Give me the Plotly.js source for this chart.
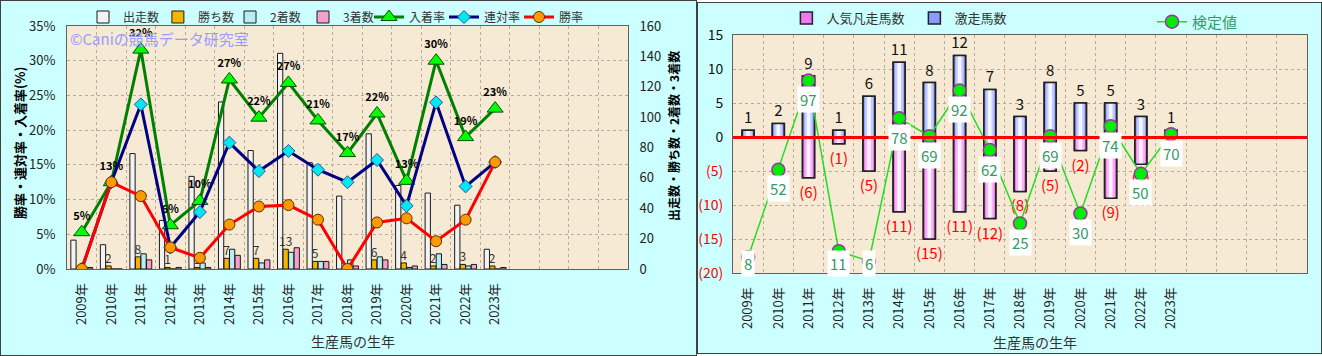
<!DOCTYPE html>
<html><head><meta charset="utf-8">
<script src="https://cdn.plot.ly/plotly-3.0.1.min.js"></script>
<style>
body{margin:0;background:#ffffff;}
#c1{position:absolute;left:0;top:0;width:695px;height:354px;border:1px solid #404040;}
#c2{position:absolute;left:697px;top:2px;width:623px;height:350px;border:1px solid #404040;}
</style></head><body>
<div id="c1"></div><div id="c2"></div>
<script>
// ---------- shared categories ----------
const years = ['2009年','2010年','2011年','2012年','2013年','2014年','2015年','2016年','2017年','2018年','2019年','2020年','2021年','2022年','2023年'];
const slotCount = 19; // 15 years + 4 empty slots on the axis

// ---------- left chart data ----------
const runs    = [19,16,76,32,61,110,78,142,70,48,89,55,50,42,13];   // 出走数
const wins    = [0,2,8,1,1,7,7,13,5,0,6,4,2,3,2];                   // 勝ち数
const seconds = [0,0,10,0,4,13,4,11,5,6,8,1,10,2,0];                // 2着数
const thirds  = [1,0,6,1,1,9,6,14,5,2,6,2,3,3,1];                   // 3着数
const placeRate    = [5.3,12.5,31.6,6.3,9.8,27.3,21.8,26.8,21.4,16.7,22.4,12.7,30.0,19.0,23.1]; // 入着率
const quinellaRate = [0,12.5,23.7,3.1,8.2,18.2,14.1,17.0,14.3,12.5,15.7,9.1,24.0,11.9,15.4];    // 連対率
const winRate      = [0,12.5,10.5,3.1,1.6,6.4,9.0,9.2,7.1,0,6.7,7.3,4.0,7.1,15.4];             // 勝率

// ---------- right chart data ----------
const hits     = [1,2,9,1,6,11,8,12,7,3,8,5,5,3,1];          // 激走馬数
const flops    = [0,0,6,1,5,11,15,11,12,8,5,2,9,4,0];        // 人気凡走馬数
const testVals = [8,52,97,11,6,78,69,92,62,25,69,30,74,50,70]; // 検定値
const rightTicks = [-20,-15,-10,-5,0,5,10,15];

// ---------- layout helpers (positions only) ----------
const leftLegendX  = [0.0285, 0.162, 0.2906, 0.4207, 0.5383, 0.672, 0.8057];
const rightLegendX = [0.093, 0.316, 0.73];

const idx = years.map((_, i) => i);
const FONT = '"Noto Sans CJK JP", "Noto Sans", sans-serif';
const PAPER = '#ccffff';
const PLOTBG = '#f6ead4';
const GRID = '#b4ab9b';

const xCommon = {
  type:'linear', range:[-0.5, slotCount - 0.5], tickmode:'array', tickvals: idx, ticktext: years,
  showgrid:false, zeroline:false,
  minor:{tickmode:'linear', tick0:-0.5, dtick:1, showgrid:true, gridcolor:GRID, griddash:'dot', gridwidth:1, ticks:''},
  tickangle:-90, ticks:'', showline:true, linecolor:'#606060', linewidth:1, mirror:true,
  tickfont:{size:13, color:'#222'}, ticklabelstandoff:8, fixedrange:true
};
function legendAt(x, y, font){
  return {orientation:'h', x:x, xanchor:'left', y:y, yanchor:'middle', bgcolor:'rgba(0,0,0,0)', itemwidth:30, font:font};
}

// ---------- left chart ----------
function bar(name, y, color, legend, extra){
  return Object.assign({type:'bar', name:name, x:idx, y:y, yaxis:'y', legend:legend,
    constraintext:'none', marker:{color:color, line:{color:'#1a1a1a', width:1}}, hoverinfo:'skip'}, extra||{});
}
const t1 = [
  bar('出走数', runs, '#f3f3f3', 'legend'),
  bar('勝ち数', wins, '#f2b600', 'legend2', {text: wins.map(v => v ? String(v) : ''), textposition:'outside', cliponaxis:false,
      textfont:{size:12, color:'#333', family:FONT}}),
  bar('2着数', seconds, '#b6eef2', 'legend3'),
  bar('3着数', thirds, '#f4a2cc', 'legend4'),
  {type:'scatter', name:'入着率', x:idx, y:placeRate, yaxis:'y2', mode:'lines+markers+text', legend:'legend5',
   line:{color:'#008000', width:3}, marker:{symbol:'triangle-up', size:14, color:'#00ff00', line:{color:'#005000', width:1}},
   text: placeRate.map(v => Math.round(v) + '%'), textposition:'top center', cliponaxis:false,
   textfont:{size:11, color:'#000', family:FONT, weight:'bold'}, hoverinfo:'skip'},
  {type:'scatter', name:'連対率', x:idx, y:quinellaRate, yaxis:'y2', mode:'lines+markers', legend:'legend6',
   line:{color:'#000080', width:3}, marker:{symbol:'diamond', size:10, color:'#00e8f0', line:{color:'#3050a0', width:1}}, hoverinfo:'skip'},
  {type:'scatter', name:'勝率', x:idx, y:winRate, yaxis:'y2', mode:'lines+markers', legend:'legend7',
   line:{color:'#ff0000', width:3}, marker:{symbol:'circle', size:11, color:'#ff9900', line:{color:'#5a3000', width:1}}, hoverinfo:'skip'}
];
const leftLegFont = {size:12, color:'#333'};
const l1 = {
  width:695, height:354, margin:{l:66, r:68, t:25, b:86, autoexpand:false},
  paper_bgcolor:PAPER, plot_bgcolor:PLOTBG,
  font:{family:FONT, size:13, color:'#333'},
  barmode:'group', bargap:0.25, bargroupgap:0.05,
  showlegend:true,
  xaxis: Object.assign({}, xCommon),
  yaxis:{side:'right', range:[0,160], dtick:20, showgrid:false, zeroline:false, showline:true, linecolor:'#606060',
         tickfont:{size:13, color:'#222'}, ticklabelstandoff:8, fixedrange:true},
  yaxis2:{overlaying:'y', side:'left', range:[0,35], dtick:5, ticksuffix:'%', showgrid:true, gridcolor:GRID, griddash:'dot',
          zeroline:false, showline:true, linecolor:'#606060', tickfont:{size:13, color:'#222'}, ticklabelstandoff:8, fixedrange:true},
  annotations:[
    {xref:'paper', yref:'paper', x:0.002, y:0.95, xanchor:'left', yanchor:'middle', showarrow:false,
     text:'©Caniの競馬データ研究室', font:{size:15, color:'#9a9aff'}},
    {xref:'paper', yref:'paper', x:0.51, y:-0.296, xanchor:'center', yanchor:'middle', showarrow:false,
     text:'生産馬の生年', font:{size:14, color:'#333'}},
    {xref:'paper', yref:'paper', x:-0.0856, y:0.5185, xanchor:'center', yanchor:'middle', showarrow:false, textangle:-90,
     text:'勝率・連対率・入着率(%)', font:{size:13, color:'#000', weight:'bold'}},
    {xref:'paper', yref:'paper', x:1.080, y:0.547, xanchor:'center', yanchor:'middle', showarrow:false, textangle:-90,
     text:'出走数・勝ち数・2着数・3着数', font:{size:12, color:'#000', weight:'bold'}}
  ]
};
['legend','legend2','legend3','legend4','legend5','legend6','legend7'].forEach((k, i) => {
  l1[k] = legendAt(leftLegendX[i], 1.037, leftLegFont);
});
Plotly.newPlot('c1', t1, l1, {staticPlot:true});

// ---------- right chart ----------
const flopsNeg = flops.map(v => -v);
function rbar(name, y, color, width, extra){
  return Object.assign({type:'bar', name:name, x:idx, y:y, width:width, constraintext:'none', hoverinfo:'skip',
    marker:{color:color, line:{width:0}}, showlegend:false}, extra||{});
}
const t2 = [
  rbar('人気凡走馬数', flopsNeg, '#ee78ee', 0.4, {showlegend:true, legend:'legend', marker:{color:'#ee78ee', line:{color:'#222', width:1.5}}}),
  rbar('激走馬数', hits, '#8a9aff', 0.4, {showlegend:true, legend:'legend2', marker:{color:'#8a9aff', line:{color:'#222', width:1.5}}}),
  rbar('p2', flopsNeg, '#f6b2f6', 0.27),
  rbar('b2', hits, '#c2caff', 0.27),
  rbar('p3', flopsNeg, '#fff0ff', 0.12),
  rbar('b3', hits, '#f4f6ff', 0.12),
  rbar('p4', flopsNeg, 'rgba(0,0,0,0)', 0.4, {marker:{color:'rgba(0,0,0,0)', line:{color:'#222', width:1.5}},
       text: flops.map(v => v ? '(' + v + ')' : ''), textposition:'outside', cliponaxis:false,
       textfont:{size:15, color:'#ff0000', family:FONT}}),
  rbar('b4', hits, 'rgba(0,0,0,0)', 0.4, {marker:{color:'rgba(0,0,0,0)', line:{color:'#222', width:1.5}},
       text: hits.map(v => String(v)), textposition:'outside', cliponaxis:false,
       textfont:{size:15, color:'#111', family:FONT}}),
  {type:'scatter', name:'検定値', x:idx, y:testVals, yaxis:'y2', mode:'lines+markers', legend:'legend3',
   line:{color:'#22dd22', width:1.5}, marker:{symbol:'circle', size:13, color:'#00ee00', line:{color:'#9933aa', width:1.5}},
   hoverinfo:'skip', cliponaxis:false}
];
const l2 = {
  width:623, height:350, margin:{l:35, r:14, t:32, b:80, autoexpand:false},
  paper_bgcolor:PAPER, plot_bgcolor:PLOTBG,
  font:{family:FONT, size:13, color:'#333'},
  barmode:'overlay',
  showlegend:true,
  legend: legendAt(rightLegendX[0], 1.071, {size:13, color:'#333'}),
  legend2: legendAt(rightLegendX[1], 1.071, {size:13, color:'#333'}),
  legend3: legendAt(rightLegendX[2], 1.055, {size:15, color:'#339966'}),
  xaxis: Object.assign({}, xCommon),
  yaxis:{range:[-20,15], tickvals:rightTicks,
         ticktext: rightTicks.map(v => v < 0 ? '<span style="color:#ff0000">(' + (-v) + ')</span>' : String(v)),
         showgrid:true, gridcolor:GRID, griddash:'dot', zeroline:true, zerolinecolor:'#ff0000', zerolinewidth:3,
         zerolinelayer:'above traces',
         showline:true, linecolor:'#606060', mirror:true, tickfont:{size:14, color:'#111'}, ticklabelstandoff:6, fixedrange:true},
  yaxis2:{overlaying:'y', range:[0,120], visible:false, fixedrange:true},
  annotations: testVals.map((v, i) => ({x:idx[i], y:Math.max(v - 9.6, 5), xref:'x', yref:'y2', text:String(v),
      showarrow:false, bgcolor:'#ffffff', borderpad:2, font:{size:15, color:'#339966'}})).concat([
    {xref:'paper', yref:'paper', x:0.526, y:-0.29, xanchor:'center', yanchor:'middle', showarrow:false,
     text:'生産馬の生年', font:{size:14, color:'#333'}}
  ])
};
Plotly.newPlot('c2', t2, l2, {staticPlot:true});
</script></body></html>
